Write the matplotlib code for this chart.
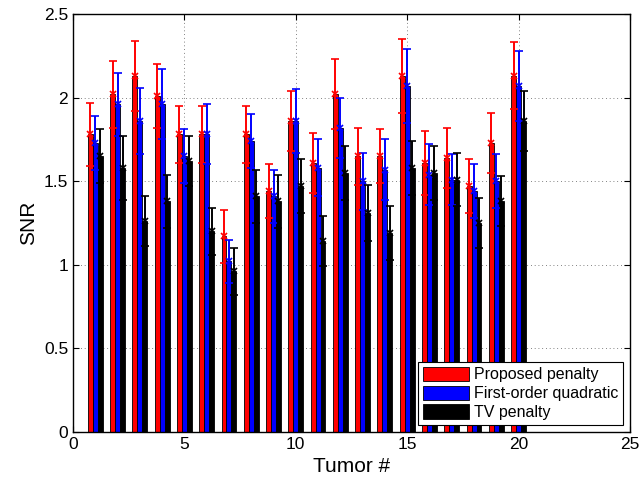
import numpy as np
import matplotlib
matplotlib.use('Agg')
import matplotlib.pyplot as plt

plt.rcParams['font.family'] = ['Liberation Sans', 'DejaVu Sans']

# SNR per tumor (mean and std) for the three penalties
tumors = np.arange(1, 21)
proposed = [1.78, 2.02, 2.13, 2.01, 1.78, 1.78, 1.17, 1.78, 1.44, 1.86,
            1.61, 2.02, 1.65, 1.65, 2.13, 1.61, 1.64, 1.47, 1.73, 2.13]
proposed_std = [0.19, 0.20, 0.21, 0.19, 0.17, 0.17, 0.16, 0.17, 0.16, 0.18,
                0.18, 0.21, 0.17, 0.16, 0.22, 0.19, 0.18, 0.16, 0.18, 0.20]
quadratic = [1.73, 1.96, 1.86, 1.96, 1.65, 1.78, 1.02, 1.74, 1.41, 1.86,
             1.58, 1.82, 1.50, 1.57, 2.07, 1.54, 1.51, 1.44, 1.50, 2.07]
quadratic_std = [0.16, 0.19, 0.20, 0.21, 0.16, 0.18, 0.13, 0.16, 0.16, 0.19,
                 0.17, 0.18, 0.17, 0.18, 0.22, 0.18, 0.15, 0.16, 0.16, 0.21]
tv = [1.65, 1.58, 1.26, 1.38, 1.62, 1.20, 0.96, 1.41, 1.38, 1.47,
      1.14, 1.55, 1.31, 1.19, 1.58, 1.55, 1.51, 1.25, 1.38, 1.86]
tv_std = [0.16, 0.19, 0.15, 0.16, 0.15, 0.14, 0.14, 0.16, 0.16, 0.16,
          0.15, 0.16, 0.17, 0.16, 0.16, 0.16, 0.16, 0.15, 0.15, 0.18]

labels = ['Proposed penalty', 'First-order quadratic', 'TV penalty']
colors = ['#ff0000', '#0000ff', '#000000']

fig = plt.figure(figsize=(6.42, 4.93), dpi=100)
ax = fig.add_axes([0.1137, 0.1237, 0.8676, 0.8479])

w = 0.222
series = [(proposed, proposed_std), (quadratic, quadratic_std), (tv, tv_std)]
for i, (vals, err) in enumerate(series):
    xpos = tumors + (i - 1) * w
    ax.bar(xpos, vals, width=w, color=colors[i], edgecolor='black',
           linewidth=0.6, label=labels[i], zorder=2)
    ax.errorbar(xpos, vals, yerr=err, fmt='x', color=colors[i], ecolor=colors[i],
                elinewidth=1.4, capsize=3, capthick=1.4, markersize=4,
                markeredgewidth=1.2, zorder=3)

ax.set_xlim(0, 25)
ax.set_ylim(0, 2.5)
ax.set_xticks([0, 5, 10, 15, 20, 25])
ax.set_yticks([0, 0.5, 1, 1.5, 2, 2.5])
ax.set_yticklabels(['0', '0.5', '1', '1.5', '2', '2.5'])
ax.tick_params(direction='in', top=True, right=True, length=4, width=0.8,
               labelsize=12.5)
ax.grid(True, linestyle=(0, (1, 3.5)), color='0.35', linewidth=0.6, zorder=0)
ax.set_axisbelow(True)
for s in ax.spines.values():
    s.set_linewidth(1.0)

ax.set_xlabel('Tumor #', fontsize=15)
ax.set_ylabel('SNR', fontsize=15)

leg = ax.legend(loc='lower right', fontsize=11.5, frameon=True, fancybox=False,
                edgecolor='black', framealpha=1, borderpad=0.3,
                handlelength=2.9, handleheight=1.0, handletextpad=0.3,
                labelspacing=0.2, borderaxespad=0.45)
leg.get_frame().set_linewidth(0.8)

fig.savefig('out.png', dpi=100)
